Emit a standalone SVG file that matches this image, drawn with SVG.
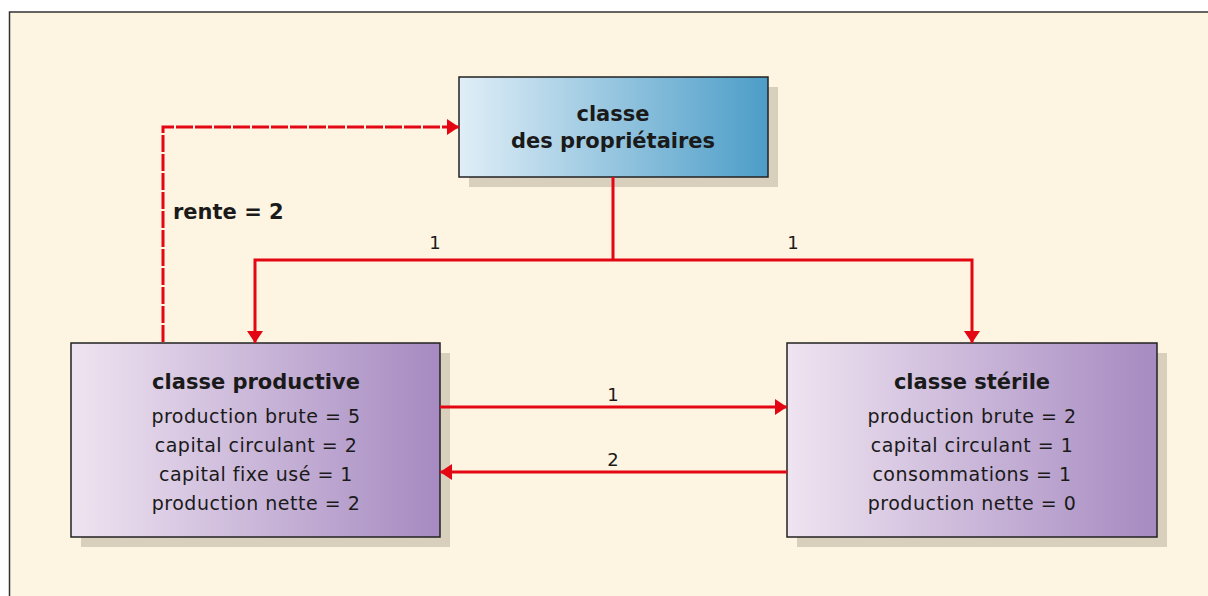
<svg xmlns="http://www.w3.org/2000/svg" width="1208" height="596" viewBox="0 0 1208 596">
<defs>
<linearGradient id="gBlue" x1="0" y1="0" x2="1" y2="0">
<stop offset="0" stop-color="#e0eef7"/>
<stop offset="1" stop-color="#4c9dc8"/>
</linearGradient>
<linearGradient id="gPurple" x1="0" y1="0" x2="1" y2="0">
<stop offset="0" stop-color="#efe4f1"/>
<stop offset="1" stop-color="#a68ac1"/>
</linearGradient>
<marker id="ahBig" viewBox="0 0 12 16" refX="12" refY="8" markerWidth="12" markerHeight="16" markerUnits="userSpaceOnUse" orient="auto">
<path d="M0,0 L12,8 L0,16 z" fill="#e30613"/>
</marker>
</defs>
<style>
.shadow{fill:#d8cfbd}
.box{stroke:#222;stroke-width:1.5}
.conn{fill:none;stroke:#e30613;stroke-width:3}
.dash{stroke-dasharray:17 2}
text{font-family:"DejaVu Sans","Liberation Sans",Arial,sans-serif;fill:#1a1a1a;text-anchor:middle}
.t{font-weight:bold;font-size:21px}
.l{font-size:19px;letter-spacing:0.5px}
.n{font-size:18px}
</style>
<rect x="0" y="0" width="1208" height="596" fill="#ffffff"/>
<rect x="9.5" y="12" width="1210" height="600" fill="#fdf4e1" stroke="#333" stroke-width="1.5"/>

<g id="proprietaires">
<rect class="shadow" x="469" y="87" width="309" height="100"/>
<rect class="box" x="459" y="77" width="309" height="100" fill="url(#gBlue)"/>
<text x="613" y="121" class="t">classe</text>
<text x="613" y="148" class="t">des propriétaires</text>
</g>

<g id="productive">
<rect class="shadow" x="81" y="353" width="369" height="194"/>
<rect class="box" x="71" y="343" width="369" height="194" fill="url(#gPurple)"/>
<text x="256" y="389" class="t">classe productive</text>
<text x="256" y="423" class="l">production brute = 5</text>
<text x="256" y="452" class="l">capital circulant = 2</text>
<text x="256" y="481" class="l">capital fixe usé = 1</text>
<text x="256" y="510" class="l">production nette = 2</text>
</g>

<g id="sterile">
<rect class="shadow" x="797" y="353" width="370" height="194"/>
<rect class="box" x="787" y="343" width="370" height="194" fill="url(#gPurple)"/>
<text x="972" y="389" class="t">classe stérile</text>
<text x="972" y="423" class="l">production brute = 2</text>
<text x="972" y="452" class="l">capital circulant = 1</text>
<text x="972" y="481" class="l">consommations = 1</text>
<text x="972" y="510" class="l">production nette = 0</text>
</g>

<g id="connectors">
<path class="conn dash" d="M163,342 V127 H459" marker-end="url(#ahBig)"/>
<path class="conn" d="M613,177 V260"/>
<path class="conn" d="M613,260 H255 V343" marker-end="url(#ahBig)"/>
<path class="conn" d="M613,260 H972 V343" marker-end="url(#ahBig)"/>
<path class="conn" d="M440,407 H787" marker-end="url(#ahBig)"/>
<path class="conn" d="M787,472 H440" marker-end="url(#ahBig)"/>
<text x="173" y="219" class="t" style="text-anchor:start">rente = 2</text>
<text x="435" y="249" class="n">1</text>
<text x="793" y="249" class="n">1</text>
<text x="613" y="401" class="n">1</text>
<text x="613" y="466" class="n">2</text>
</g>
</svg>
